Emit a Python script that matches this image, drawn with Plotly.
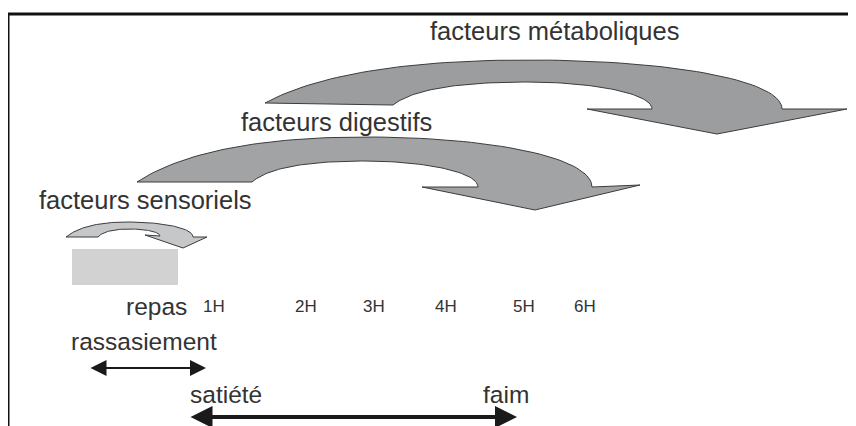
import numpy as np
import plotly.graph_objects as go

# ---- diagram data (canvas coordinates, x right, y down) ----
arrow_names = ["facteurs métaboliques", "facteurs digestifs", "facteurs sensoriels"]
# key points: left tip, base end, inner peak, inner end, head left, head tip, head right, outer end, outer peak
left_tip   = [(265, 103), (137, 182), (66, 237)]
base_end   = [(393, 105), (252, 182), (98, 237)]
inner_peak = [(528, 82), (365, 161), (130, 229)]
inner_end  = [(652, 109), (478, 187), (160, 236)]
head_left  = [(587, 109), (422, 187), (145, 235)]
head_tip   = [(717, 134), (535, 210), (183, 248)]
head_right = [(847, 109), (640, 185), (207, 237)]
outer_end  = [(782, 109), (592, 187), (193, 237)]
outer_peak = [(528, 60), (365, 137), (127, 222)]
arrow_fill = ["#9c9d9f", "#a2a3a5", "#c6c7c9"]

label_text = ["facteurs métaboliques", "facteurs digestifs", "facteurs sensoriels"]
label_pos = [(554, 31), (336, 122), (145, 200)]

hour_labels = ["1H", "2H", "3H", "4H", "5H", "6H"]
hour_x = [214, 306, 374, 446, 524, 585]
hour_y = 306

meal_box = (72, 249, 178, 285)  # x0, y0, x1, y1

W, H = 856, 426
OFF = 8  # page body margin


def bez(p0, p1, p2, p3, n=40):
    t = np.linspace(0, 1, n)[:, None]
    p0, p1, p2, p3 = map(np.array, (p0, p1, p2, p3))
    return ((1 - t) ** 3) * p0 + 3 * ((1 - t) ** 2) * t * p1 + 3 * (1 - t) * t ** 2 * p2 + t ** 3 * p3


def arrow_path(i):
    L, B, IP, IE = left_tip[i], base_end[i], inner_peak[i], inner_end[i]
    HL, T, HR, OE, OP = head_left[i], head_tip[i], head_right[i], outer_end[i], outer_peak[i]
    dx, dy = OP[0] - L[0], L[1] - OP[1]
    ol = bez(L, (L[0] + 0.18 * dx, L[1] - 0.6 * dy), (L[0] + 0.5 * dx, OP[1]), OP)
    dx2, dy2 = OE[0] - OP[0], OE[1] - OP[1]
    orr = bez(OP, (OP[0] + 0.55 * dx2, OP[1]), (OE[0], OP[1] + 0.4 * dy2), OE)
    dx3, dy3 = IP[0] - B[0], B[1] - IP[1]
    il = bez(B, (B[0] + 0.15 * dx3, B[1] - 0.7 * dy3), (B[0] + 0.5 * dx3, IP[1]), IP)
    dx4, dy4 = IE[0] - IP[0], IE[1] - IP[1]
    ir = bez(IP, (IP[0] + 0.5 * dx4, IP[1]), (IE[0], IP[1] + 0.4 * dy4), IE)
    pts = np.vstack([ol, orr, [HR, T, HL, IE], ir[::-1], il[::-1], [L]])
    return pts[:, 0], pts[:, 1]


fig = go.Figure()

# meal box
fig.add_shape(type="rect", x0=meal_box[0], y0=meal_box[1], x1=meal_box[2], y1=meal_box[3],
              line=dict(width=0), fillcolor="#d2d2d2", layer="below")

for i in range(3):
    xs, ys = arrow_path(i)
    fig.add_trace(go.Scatter(x=xs, y=ys, mode="lines", fill="toself",
                             fillcolor=arrow_fill[i], line=dict(color="#3c3c3c", width=1),
                             hoverinfo="skip", showlegend=False, name=arrow_names[i]))

FAM = "Liberation Sans, Arial, sans-serif"
big = dict(family=FAM, size=25.5, color="#333333")
font = dict(family=FAM, size=24.5, color="#333333")
for t, (x, y) in zip(label_text, label_pos):
    fig.add_annotation(x=x, y=y, text=t, showarrow=False, font=big, xanchor="center", yanchor="middle")

fig.add_annotation(x=156, y=hour_y, text="repas", showarrow=False, font=font)
for t, x in zip(hour_labels, hour_x):
    fig.add_annotation(x=x, y=hour_y, text=t, showarrow=False,
                       font=dict(family=FAM, size=17, color="#333333"))

fig.add_annotation(x=144, y=341, text="rassasiement", showarrow=False, font=font)
fig.add_annotation(x=226, y=394, text="satiété", showarrow=False, font=font)
fig.add_annotation(x=506, y=394, text="faim", showarrow=False, font=font)

# double arrows
fig.add_annotation(x=206, y=368, ax=89, ay=368, xref="x", yref="y", axref="x", ayref="y",
                   text="", showarrow=True, arrowside="end+start", arrowhead=2,
                   arrowsize=1.6, arrowwidth=2, arrowcolor="#1a1a1a")
fig.add_annotation(x=517, y=417, ax=189, ay=417, xref="x", yref="y", axref="x", ayref="y",
                   text="", showarrow=True, arrowside="end+start", arrowhead=2,
                   arrowsize=1.1, arrowwidth=4, arrowcolor="#1a1a1a")

# frame
fig.add_shape(type="line", x0=8, y0=14, x1=W + 5, y1=14, line=dict(color="#111111", width=3))
fig.add_shape(type="line", x0=8, y0=14, x1=8, y1=H + 5, line=dict(color="#111111", width=3))

fig.update_layout(
    width=W - OFF, height=H - OFF, margin=dict(l=0, r=0, t=0, b=0),
    paper_bgcolor="white", plot_bgcolor="white",
    xaxis=dict(range=[OFF, W], visible=False, fixedrange=True),
    yaxis=dict(range=[H, OFF], visible=False, fixedrange=True),
)

fig.write_html("out.html")
